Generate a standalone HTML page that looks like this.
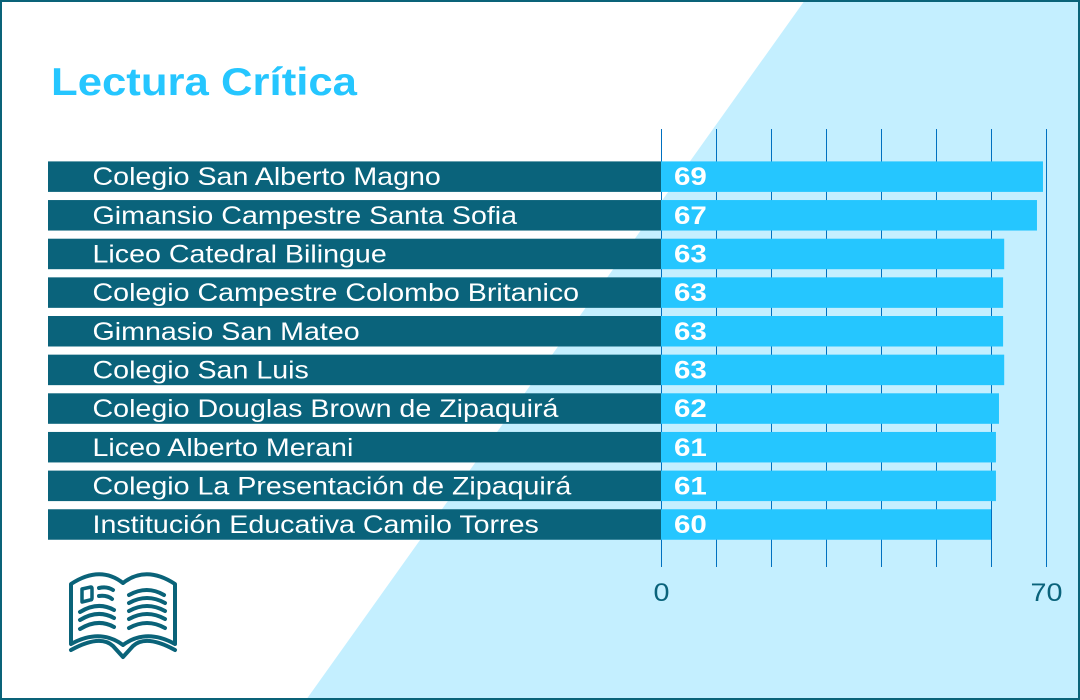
<!DOCTYPE html>
<html lang="es">
<head>
<meta charset="utf-8">
<title>Lectura Crítica</title>
<style>
html,body{margin:0;padding:0;background:#fff;}
svg{display:block;font-family:"Liberation Sans",sans-serif;}
</style>
</head>
<body>
<svg id="chart" xmlns="http://www.w3.org/2000/svg" width="1080" height="700" viewBox="0 0 1080 700">
  <rect x="0" y="0" width="1080" height="700" fill="#ffffff"/>
  <polygon points="805,0 1080,0 1080,700 306,700" fill="#c4efff"/>
  <rect x="1" y="1" width="1078" height="698" fill="none" stroke="#0a6379" stroke-width="2"/>
  <text x="51" y="95" font-size="39" font-weight="700" fill="#25c6ff" textLength="306" lengthAdjust="spacingAndGlyphs">Lectura Crítica</text>
  <g id="grid"></g>
  <g id="bars"></g>
  <g id="axis"></g>
  <g fill="none" stroke="#0a6379" stroke-width="4" stroke-linecap="round" stroke-linejoin="round">
    <path d="M71 644V584Q100 565 123 583Q146 565 175 584V644Q146 628 123 645Q100 628 71 644Z"/>
    <path d="M71 650Q100 634 113 646L123 657L133 646Q146 634 175 650"/>
    <path stroke-width="3.5" d="M82 589L91 587Q92 587 92 589V598Q92 600 90 600L82 602Z"/>
    <path d="M99 588Q107 586 113 590M99 596Q107 595 112 599M80 612Q98 601 114 610M80 620Q98 609 114 618M80 629Q98 618 114 627"/>
    <path d="M129 595Q147 585 164 595M129 603Q147 593 165 603M129 611Q147 601 165 611M129 619Q147 609 165 619M129 628Q147 618 165 628"/>
  </g>
</svg>
<script>
const categories = ["Colegio San Alberto Magno","Gimansio Campestre Santa Sofia","Liceo Catedral Bilingue","Colegio Campestre Colombo Britanico","Gimnasio San Mateo","Colegio San Luis","Colegio Douglas Brown de Zipaquirá","Liceo Alberto Merani","Colegio La Presentación de Zipaquirá","Institución Educativa Camilo Torres"];
const barValues = [69.45,68.36,62.4,62.2,62.2,62.4,61.45,60.9,60.9,60];
const printedValues = ["69","67","63","63","63","63","62","61","61","60"];
const gridTicks = [0,10,20,30,40,50,60,70];
const axisTicks = [0,70];

const NS = "http://www.w3.org/2000/svg";
const xScale = v => 661 + v * 5.5;
const yTop = i => 161.4 + i * 38.65;
const BAR_H = 30.5;
const SX = 1.145;

function make(tag, attrs, parent) {
  const el = document.createElementNS(NS, tag);
  for (const k in attrs) el.setAttribute(k, attrs[k]);
  parent.appendChild(el);
  return el;
}

const gridG = document.getElementById("grid");
gridTicks.forEach(t => {
  const line = make("line", {x1:xScale(t)+0.5, x2:xScale(t)+0.5, y1:129, y2:567, stroke:"#0070c0", "stroke-width":1}, gridG);
  
  
});

const barsG = document.getElementById("bars");
categories.forEach((name, i) => {
  const y = yTop(i);
  const band = make("rect", {x:48, y:y, width:xScale(0)-48, height:BAR_H, fill:"#0a637b"}, barsG);
  
  
  const bar = make("rect", {x:xScale(0), y:y, width:xScale(barValues[i])-xScale(0), height:BAR_H, fill:"#25c6ff"}, barsG);
  
  
  const label = make("text", {transform:`translate(92.5 ${y+23.8}) scale(${SX} 1)`, "font-size":25, fill:"#ffffff"}, barsG);
  
  
  label.textContent = name;
  const val = make("text", {transform:`translate(674 ${y+23.8}) scale(1.18 1)`, "font-size":25, "font-weight":700, fill:"#ffffff"}, barsG);
  
  
  val.textContent = printedValues[i];
});

const axisG = document.getElementById("axis");
axisTicks.forEach(t => {
  const tick = make("text", {transform:`translate(${xScale(t)+0.5} 601) scale(1.15 1)`, "font-size":25, "text-anchor":"middle", fill:"#0a637b"}, axisG);
  
  
  tick.textContent = t;
});
</script>
</body>
</html>
